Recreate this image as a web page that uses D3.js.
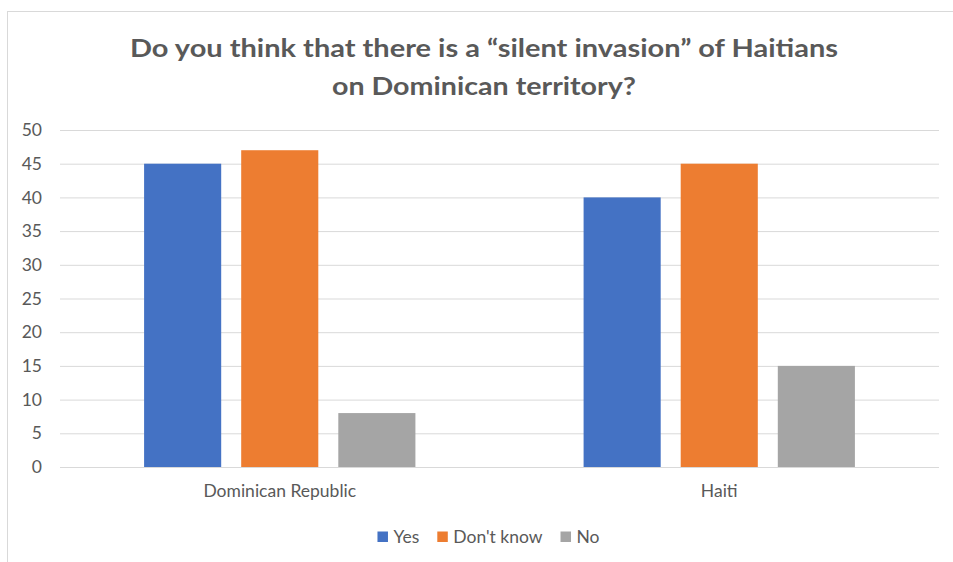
<!DOCTYPE html>
<html>
<head>
<meta charset="utf-8">
<script src="https://cdn.jsdelivr.net/npm/d3@7/dist/d3.min.js"></script>
<style>
  html, body { margin: 0; padding: 0; background: #fff; }
  svg { display: block; }
  text { font-family: Lato, "Open Sans", sans-serif; fill: #595959; }
</style>
</head>
<body>
<svg id="chart" width="953" height="562"></svg>
<script>
// Survey answers by country (percent)
const categories = ["Dominican Republic", "Haiti"];
const seriesNames = ["Yes", "Don't know", "No"];
const yesValues = [45, 40];
const dontKnowValues = [47, 45];
const noValues = [8, 15];
const yTicks = [0, 5, 10, 15, 20, 25, 30, 35, 40, 45, 50];
const titleLines = [
  "Do you think that there is a \u201Csilent invasion\u201D of Haitians",
  "on Dominican territory?"
];

const colors = { "Yes": "#4472C4", "Don't know": "#ED7D31", "No": "#A5A5A5" };
const seriesValues = { "Yes": yesValues, "Don't know": dontKnowValues, "No": noValues };

const svg = d3.select("#chart");
const labelFont = 17.5;

// chart area frame
svg.append("rect")
  .attr("x", 7.5).attr("y", 11.5)
  .attr("width", 1000).attr("height", 1000)
  .attr("fill", "none").attr("stroke", "#D9D9D9").attr("stroke-width", 1);

// title
const titleBaselines = [56.5, 94.5];
const titleWidths = [708, 304];
titleLines.forEach((line, i) => {
  svg.append("text")
    .attr("x", 484).attr("y", titleBaselines[i])
    .attr("text-anchor", "middle")
    .attr("font-size", 24).attr("font-weight", "bold")
    .attr("textLength", titleWidths[i]).attr("lengthAdjust", "spacingAndGlyphs")
    .text(line);
});

const plot = { left: 60, right: 939, top: 130, bottom: 467 };

const y = d3.scaleLinear().domain([0, 50]).range([plot.bottom, plot.top]);
const x0 = d3.scaleBand().domain(categories).range([plot.left, plot.right]);
const x1 = d3.scaleBand().domain(seriesNames)
  .range([0, x0.bandwidth()])
  .paddingInner(0.206).paddingOuter(0.866);

// value axis with gridlines
const yAxis = svg.append("g")
  .attr("transform", `translate(${plot.left},0)`)
  .call(d3.axisLeft(y).tickValues(yTicks)
    .tickSize(-(plot.right - plot.left)).tickPadding(18));
yAxis.select(".domain").remove();
yAxis.selectAll(".tick line").attr("stroke", "#D9D9D9").attr("stroke-width", 1);
yAxis.selectAll(".tick text")
  .attr("font-size", labelFont).attr("fill", "#595959")
  .style("font-family", "Lato, 'Open Sans', sans-serif");

// bars
const groups = svg.append("g").selectAll("g")
  .data(categories)
  .join("g")
  .attr("transform", d => `translate(${x0(d)},0)`);

groups.selectAll("rect")
  .data((d, i) => seriesNames.map(s => ({ key: s, value: seriesValues[s][i] })))
  .join("rect")
  .attr("x", d => x1(d.key))
  .attr("width", x1.bandwidth())
  .attr("y", d => y(d.value))
  .attr("height", d => y(0) - y(d.value))
  .attr("fill", d => colors[d.key]);

// category axis labels
const xAxis = svg.append("g")
  .attr("transform", `translate(0,${plot.bottom})`)
  .call(d3.axisBottom(x0).tickSize(0).tickPadding(18));
xAxis.select(".domain").remove();
xAxis.selectAll(".tick text")
  .attr("font-size", labelFont).attr("fill", "#595959")
  .style("font-family", "Lato, 'Open Sans', sans-serif");

// legend
const legend = svg.append("g");
let cursor = 0;
seriesNames.forEach(name => {
  const item = legend.append("g").attr("transform", `translate(${cursor},0)`);
  item.append("rect")
    .attr("x", 0).attr("y", -11)
    .attr("width", 10.5).attr("height", 10.5)
    .attr("fill", colors[name]);
  const t = item.append("text")
    .attr("x", 16).attr("y", 0)
    .attr("font-size", labelFont)
    .text(name);
  cursor += 16 + t.node().getComputedTextLength() + 18;
});
const legendWidth = cursor - 18;
legend.attr("transform", `translate(${488.5 - legendWidth / 2},542.5)`);
</script>
</body>
</html>
